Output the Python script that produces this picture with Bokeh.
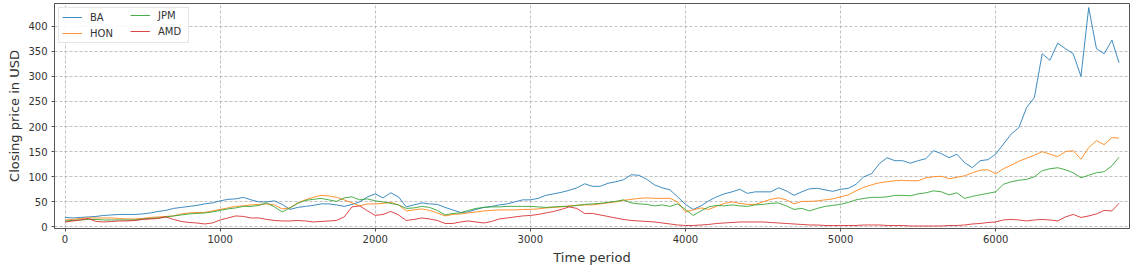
from bokeh.plotting import figure
from bokeh.models import Range1d, FixedTicker, Legend, LegendItem
from bokeh.embed import file_html
from bokeh.resources import INLINE

# time index (every 50 periods) and closing prices
t = list(range(0, 6800, 50)) + [6795]

ba = [19, 18, 19, 20, 21, 23, 24, 25, 25, 25,
      26, 28, 31, 33, 37, 39, 41, 43, 46, 48,
      52, 55, 56, 59, 54, 50, 50, 52, 45, 35,
      39, 41, 43, 46, 46, 44, 41, 45, 50, 60,
      66, 58, 68, 60, 40, 44, 48, 46, 45, 39,
      34, 29, 30, 35, 39, 41, 44, 46, 50, 54,
      54, 57, 63, 66, 69, 73, 78, 86, 81, 81,
      87, 90, 94, 104, 103, 95, 84, 78, 74, 60,
      45, 35, 42, 52, 60, 66, 70, 75, 67, 70,
      70, 70, 78, 72, 63, 70, 76, 77, 74, 71,
      75, 77, 85, 100, 106, 126, 138, 132, 132, 127,
      132, 136, 152, 146, 138, 145, 128, 118, 132, 134,
      145, 165, 185, 198, 238, 258, 345, 332, 366, 355,
      345, 300, 437, 355, 345, 372, 327]

hon = [14, 15, 17, 18, 18, 18, 18, 17, 16, 16,
       17, 19, 20, 21, 22, 26, 28, 29, 29, 32,
       35, 38, 41, 42, 44, 45, 46, 44, 36, 38,
       48, 54, 59, 63, 62, 59, 54, 48, 42, 46,
       46, 47, 49, 44, 32, 34, 36, 33, 28, 22,
       25, 26, 28, 30, 32, 33, 34, 34, 34, 35,
       35, 36, 38, 39, 40, 42, 43, 44, 44, 46,
       48, 50, 53, 55, 57, 58, 57, 57, 57, 50,
       30, 34, 38, 35, 41, 47, 50, 47, 45, 45,
       50, 55, 58, 54, 46, 51, 51, 52, 54, 56,
       60, 64, 72, 79, 84, 88, 90, 92, 93, 92,
       92, 98, 100, 101, 96, 99, 102, 108, 113, 114,
       106, 116, 123, 131, 137, 143, 150, 145, 140, 150,
       152, 135, 158, 172, 164, 178, 177]

jpm = [12, 13, 14, 15, 15, 14, 14, 14, 14, 14,
       16, 17, 18, 20, 22, 24, 26, 27, 28, 30,
       33, 36, 38, 41, 41, 43, 48, 40, 30, 38,
       47, 53, 55, 57, 54, 51, 58, 60, 54, 56,
       52, 50, 47, 44, 37, 38, 41, 39, 33, 24,
       27, 28, 33, 37, 39, 40, 40, 41, 41, 41,
       41, 40, 39, 40, 41, 41, 43, 45, 46, 47,
       49, 51, 54, 48, 46, 45, 42, 44, 41, 46,
       35, 23, 32, 40, 43, 42, 44, 42, 41, 44,
       45, 47, 48, 42, 35, 37, 32, 37, 41, 43,
       45, 49, 54, 57, 59, 59, 60, 63, 63, 62,
       66, 68, 72, 70, 64, 68, 57, 61, 64, 67,
       70, 85, 90, 93, 95, 100, 112, 116, 118, 114,
       108, 98, 103, 108, 110, 122, 139]

amd = [10, 12, 14, 17, 11, 10, 11, 12, 12, 13,
       15, 16, 17, 20, 15, 11, 9, 8, 6, 8,
       14, 18, 22, 21, 18, 18, 15, 13, 12, 12,
       13, 12, 10, 11, 12, 13, 20, 40, 42, 32,
       23, 25, 31, 24, 13, 15, 18, 16, 13, 7,
       7, 10, 12, 10, 8, 11, 16, 18, 20, 22,
       23, 25, 28, 31, 35, 40, 37, 27, 27, 24,
       21, 18, 15, 13, 12, 11, 10, 8, 6, 4,
       3, 3, 4, 5, 7, 8, 9, 10, 10, 10,
       10, 9, 8, 7, 6, 5, 4, 4, 3, 3,
       3, 3, 3, 4, 4, 4, 3, 3, 3, 2,
       2, 2, 2, 2, 3, 3, 4, 6, 7, 9,
       10, 14, 15, 14, 12, 14, 15, 14, 12, 20,
       25, 19, 22, 26, 33, 32, 47]

names = ["BA", "HON", "JPM", "AMD"]
series = [ba, hon, jpm, amd]
colors = ["#1f77b4", "#ff7f0e", "#2ca02c", "#d62728"]
x_ticks = [0, 1000, 2000, 3000, 4000, 5000, 6000]
y_ticks = [0, 50, 100, 150, 200, 250, 300, 350, 400]

FONT = "DejaVu Sans"
TXT = "#333333"

p = figure(width=1134, height=267, output_backend="svg", toolbar_location=None,
           x_range=Range1d(-68, 6863), y_range=Range1d(-3, 445),
           min_border_left=54, min_border_right=5, min_border_top=3,
           min_border_bottom=35)

renderers = []
for ys, c in zip(series, colors):
    renderers.append(p.line(t, ys, line_color=c, line_width=1, line_alpha=0.85))


def make_legend(idx, location, framed, label_width):
    lg = Legend(items=[LegendItem(label=names[i], renderers=[renderers[i]]) for i in idx],
                location=location)
    lg.margin = 4
    lg.padding = 3
    lg.spacing = 4
    lg.glyph_width = 20
    lg.glyph_height = 12
    lg.label_height = 12
    lg.label_width = label_width
    lg.label_standoff = 8
    lg.label_text_font = FONT
    lg.label_text_font_size = "10px"
    lg.label_text_color = TXT
    if framed:
        lg.border_line_color = "#cccccc"
        lg.border_line_width = 1
        lg.background_fill_alpha = 0.85
    else:
        lg.border_line_color = None
        lg.background_fill_color = None
        lg.background_fill_alpha = 0
    return lg


# first column carries the frame, second column is drawn over it
p.add_layout(make_legend([0, 1], "top_left", True, 95))
p.add_layout(make_legend([2, 3], (76, 191), False, 30))

p.outline_line_color = "#555555"
p.outline_line_width = 1

for ax in (p.xaxis[0], p.yaxis[0]):
    ax.axis_line_color = "#555555"
    ax.major_tick_line_color = "#555555"
    ax.major_tick_out = 3
    ax.major_tick_in = 0
    ax.minor_tick_line_color = None
    ax.major_label_text_font = FONT
    ax.major_label_text_font_size = "10px"
    ax.major_label_text_color = TXT
    ax.major_label_text_line_height = 1.0
    ax.axis_label_text_font = FONT
    ax.axis_label_text_font_size = "13px"
    ax.axis_label_text_font_style = "normal"
    ax.axis_label_text_color = TXT
    ax.axis_label_text_line_height = 1.0

p.xaxis[0].ticker = FixedTicker(ticks=x_ticks)
p.yaxis[0].ticker = FixedTicker(ticks=y_ticks)
p.xaxis[0].axis_label = "Time period"
p.yaxis[0].axis_label = "Closing price in USD"
p.xaxis[0].major_label_standoff = 3
p.xaxis[0].axis_label_standoff = 4
p.yaxis[0].major_label_standoff = 4
p.yaxis[0].axis_label_standoff = 3

for g in (p.xgrid[0], p.ygrid[0]):
    g.grid_line_color = "#b0b0b0"
    g.grid_line_dash = "3 2"
    g.grid_line_width = 0.8

open("out.html", "w").write(file_html(p, INLINE))
